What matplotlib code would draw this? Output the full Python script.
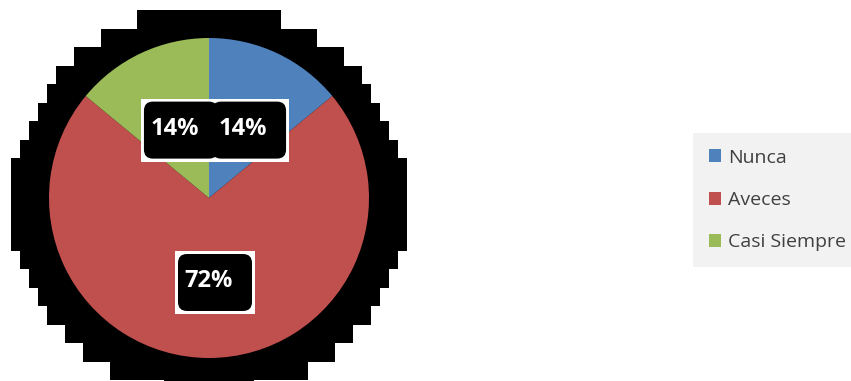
import numpy as np
import matplotlib
matplotlib.use("Agg")
import matplotlib.pyplot as plt
from matplotlib.patches import FancyBboxPatch, Rectangle

labels = ["Nunca", "Aveces", "Casi Siempre"]
values = [14, 72, 14]
colors = ["#4F81BD", "#C0504D", "#9BBB59"]

W, H = 851, 381
fig = plt.figure(figsize=(W / 100, H / 100), dpi=100)
ax = fig.add_axes([0, 0, 1, 1])
ax.set_xlim(0, W); ax.set_ylim(0, H); ax.axis("off")
ax.set_aspect("equal")

cx, cy, R = 209, H - 198, 160

# blocky black "shadow" behind the pie (rendering artefact in the original)
sR, scy, step = 199, H - 201, 18.5
ytop = H - 10
while ytop > 0:
    ymid = ytop - step / 2
    dy = abs(ymid - scy)
    if dy < sR:
        hw = np.sqrt(sR ** 2 - (dy + step / 4) ** 2) if dy + step / 4 < sR else 36
        hw = max(round(hw / 9) * 9, 36)
        ax.add_patch(Rectangle((cx - hw, ytop - step), 2 * hw, step,
                               facecolor="black", edgecolor="none", zorder=0))
    ytop -= step

wedges, _ = ax.pie(values, colors=colors, startangle=90, counterclock=False,
                   center=(cx, cy), radius=R, frame=True,
                   wedgeprops=dict(linewidth=0))
ax.set_xlim(0, W); ax.set_ylim(0, H); ax.axis("off")

# data labels in black boxes
for w, v in zip(wedges, values):
    ang = np.deg2rad((w.theta1 + w.theta2) / 2)
    tx = cx + 0.5 * R * np.cos(ang)
    ty = cy + 0.5 * R * np.sin(ang) - 3
    bx, by = tx + 6, ty - 1.5
    bw, bh = 80, 63
    ax.add_patch(Rectangle((bx - bw / 2, by - bh / 2), bw, bh,
                           facecolor="white", edgecolor="none", zorder=3))
    ax.add_patch(FancyBboxPatch((bx - bw / 2 + 3, by - bh / 2 + 3), bw - 6, bh - 6,
                                boxstyle="round,pad=0,rounding_size=9",
                                facecolor="black", edgecolor="none", zorder=4))
    ax.text(tx, ty, f"{v}%", color="white", fontsize=17, fontweight="bold",
            family="Open Sans", ha="center", va="center", zorder=5)

leg = fig.legend(wedges, labels, loc="center left",
                 bbox_to_anchor=(693 / W, 1 - 200 / H),
                 frameon=True, fancybox=False, facecolor="#F2F2F2",
                 edgecolor="none", framealpha=1,
                 prop=dict(family="Open Sans", size=14),
                 labelspacing=1.25, handlelength=0.65, handleheight=0.65,
                 handletextpad=0.35, borderpad=0.8, borderaxespad=0)
for t in leg.get_texts():
    t.set_color("#404040")

fig.savefig("out.png", dpi=100, facecolor="white")
